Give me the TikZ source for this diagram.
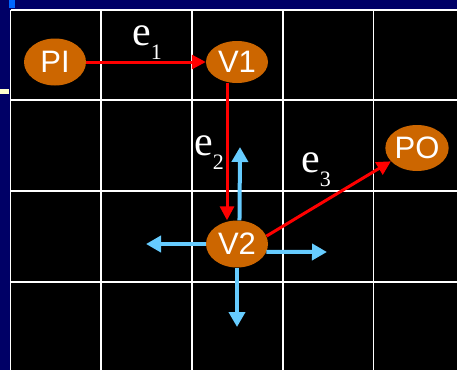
\documentclass[tikz,border=0pt]{standalone}
\usepackage{fontspec}
\usepackage{tikz}
\usetikzlibrary{arrows.meta,shapes.geometric}
\newfontfamily\nodefont{Liberation Sans}
\newfontfamily\labfont{Liberation Serif}
\definecolor{slideNavy}{HTML}{000066}
\definecolor{slideBlue}{HTML}{0066FF}
\definecolor{slideCream}{HTML}{FFFFCC}
\definecolor{vtxOrange}{HTML}{CC6600}
\definecolor{moveBlue}{HTML}{66CCFF}
\newcommand{\elab}[1]{{\labfont\fontsize{42}{42}\selectfont e\raisebox{-14pt}{\fontsize{22}{22}\selectfont #1}}}

\begin{document}
\begin{tikzpicture}[x=1pt,y=-1pt,
  vtx/.style={ellipse,fill=vtxOrange,text=white,inner sep=0pt,minimum width=62pt,
    font=\nodefont\fontsize{31}{31}\selectfont},
  edgeArrow/.style={red,line width=3pt,-{Triangle[length=14pt,width=14pt]}},
  moveArrow/.style={moveBlue,line width=4pt,-{Triangle[length=15pt,width=16pt]}},
  elabel/.style={anchor=base west,inner sep=0pt,text=white}]
  % slide background and grid
  \useasboundingbox (0,0) rectangle (457,370);
  \fill[slideNavy] (0,0) rectangle (457,370);
  \fill[slideBlue] (9,0) rectangle (15,8);
  \fill[slideCream] (0,89) rectangle (9,94);
  \fill[black] (10.5,10) rectangle (457,370);
  \foreach \x in {10.5,101,192,283,373.5}{
    \draw[white,line width=1.4pt] (\x,10) -- (\x,370);
  }
  \foreach \y in {10,100,191,282}{
    \draw[white,line width=1.4pt] (10.5,\y) -- (457,\y);
  }

  % vertices
  \foreach \nm/\x/\y/\h/\lab in {pi/55/62/47/PI,v1/237/62/42/V1,v2/237/244/47/V2,po/417/148/46/PO}{
    \node[vtx,minimum height=\h pt] (\nm) at (\x,\y) {\lab};
  }

  % routed edges
  \draw[edgeArrow] (pi.east) -- (v1.west);
  \draw[edgeArrow] ([xshift=-10pt]v1.south) -- ([xshift=-10pt]v2.north);
  \draw[edgeArrow] (v2.15) -- (po.-153);
  \node[elabel] (e1) at (132,45) {\elab{1}};
  \node[elabel] (e2) at (194,155) {\elab{2}};
  \node[elabel] (e3) at (301,172) {\elab{3}};

  % possible moves of V2
  \coordinate (upTip) at (240,147);
  \coordinate (leftTip) at (146,244);
  \coordinate (rightTip) at (327,252);
  \coordinate (downTip) at (237,327);
  \foreach \from/\to in {v2.84/upTip,v2.west/leftTip,v2.-15/rightTip,v2.south/downTip}{
    \draw[moveArrow] (\from) -- (\to);
  }
\end{tikzpicture}
\end{document}
